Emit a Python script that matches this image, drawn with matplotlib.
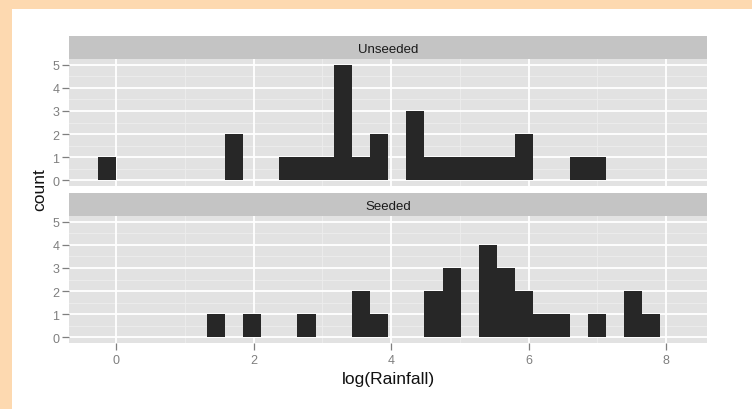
# Faceted histogram of log(Rainfall), Unseeded vs Seeded (ggplot2 look)

import matplotlib
matplotlib.use('Agg')
import matplotlib.pyplot as plt
from matplotlib.patches import Rectangle
import numpy as np

plt.rcParams['font.family'] = ['Liberation Sans', 'DejaVu Sans']

# bins: 31 bins of equal width, first bin ends at 0
bin_width = 0.2639
bin_start = -0.2639
n_bins = 31

panels = ['Unseeded', 'Seeded']

# counts per bin (index 0..30)
unseeded_counts = [1, 0, 0, 0, 0, 0, 0, 2, 0, 0,
                   1, 1, 1, 5, 1, 2, 0, 3, 1, 1,
                   1, 1, 1, 2, 0, 0, 1, 1, 0, 0, 0]
seeded_counts = [0, 0, 0, 0, 0, 0, 1, 0, 1, 0,
                 0, 1, 0, 0, 2, 1, 0, 0, 2, 3,
                 0, 4, 3, 2, 1, 1, 0, 1, 0, 2, 1]

x_ticks = [0, 2, 4, 6, 8]
y_ticks = [0, 1, 2, 3, 4, 5]

W, H = 752, 410
fig = plt.figure(figsize=(W / 100, H / 100), dpi=100)
fig.patch.set_facecolor('#fdd9b0')
fig.patches.append(Rectangle((12 / W, 0), 1 - 12 / W, 1 - 10 / H,
                             transform=fig.transFigure, facecolor='white',
                             edgecolor='none', zorder=-10))


def fx(px):
    return px / W


def fy(py):
    return 1 - py / H


left, right = 69, 707
layout = [(37, 60, 187), (194, 217, 344)]  # strip top, panel top, panel bottom

lefts = bin_start + bin_width * np.arange(n_bins)

for i, (name, counts) in enumerate(zip(panels, [unseeded_counts, seeded_counts])):
    s_top, p_top, p_bot = layout[i]
    ax = fig.add_axes([fx(left), fy(p_bot), fx(right - left), (p_bot - p_top) / H])
    sax = fig.add_axes([fx(left), fy(p_top), fx(right - left), (p_top - s_top) / H])

    sax.set_facecolor('#c4c4c4')
    sax.set_xticks([])
    sax.set_yticks([])
    for sp in sax.spines.values():
        sp.set_visible(False)
    sax.text(0.5, 0.45, name, ha='center', va='center', fontsize=9.5,
             color='#1a1a1a', transform=sax.transAxes)

    ax.set_facecolor('#e2e2e2')
    for sp in ax.spines.values():
        sp.set_visible(False)

    # minor grid
    for xm in [-1, 1, 3, 5, 7]:
        ax.axvline(xm, color='#ededed', lw=0.6, zorder=0.5)
    for ym in np.arange(-0.5, 5.6, 1):
        ax.axhline(ym, color='#ededed', lw=0.6, zorder=0.5)
    # major grid
    for xm in x_ticks:
        ax.axvline(xm, color='white', lw=1.3, zorder=0.6)
    for ym in y_ticks:
        ax.axhline(ym, color='white', lw=1.3, zorder=0.6)

    ax.bar(lefts, counts, width=bin_width, align='edge', color='#272727',
           edgecolor='none', zorder=2)

    ax.set_xlim(-0.684, 8.596)
    ax.set_ylim(-0.25, 5.25)
    ax.set_yticks(y_ticks)
    ax.tick_params(axis='y', length=5, width=0.9, color='#7f7f7f',
                   labelcolor='#7f7f7f', labelsize=9, pad=2)
    if i == 0:
        ax.set_xticks([])
    else:
        ax.set_xticks(x_ticks)
        ax.tick_params(axis='x', length=5, width=0.9, color='#7f7f7f',
                       labelcolor='#7f7f7f', labelsize=9, pad=3)

fig.text(fx(40), fy(190), 'count', rotation=90, ha='center', va='center',
         fontsize=12.5, color='#111111')
fig.text(fx(388), fy(380), 'log(Rainfall)', ha='center', va='center',
         fontsize=12.5, color='#111111')

fig.savefig('out.png', dpi=100, facecolor=fig.get_facecolor())
